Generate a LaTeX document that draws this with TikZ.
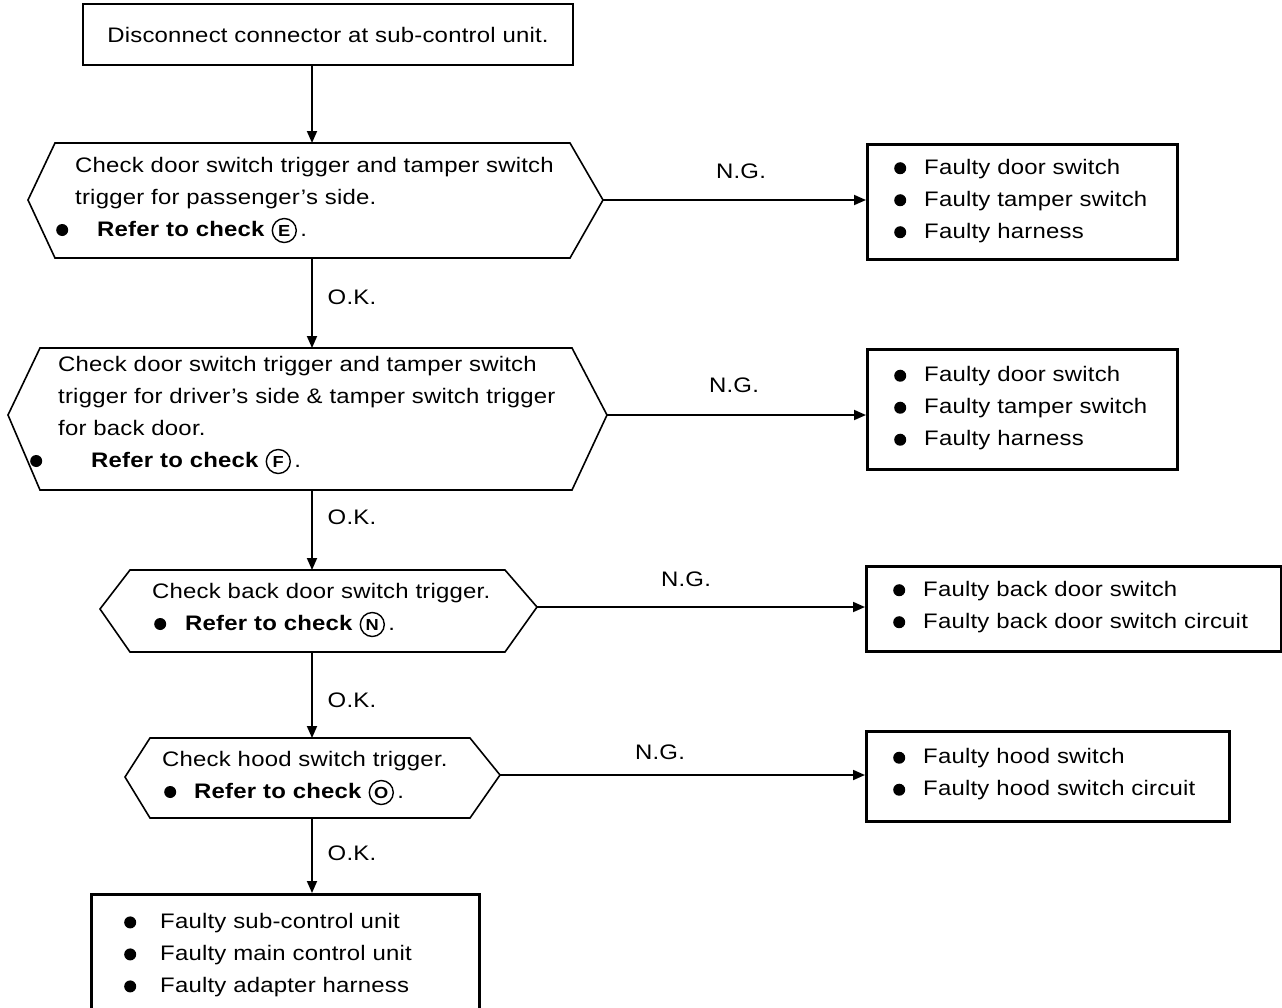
\documentclass[tikz,border=0pt]{standalone}
\usepackage{fontspec}
\setmainfont{Liberation Sans}[FakeStretch=1.14,LetterSpace=1]
\usetikzlibrary{arrows.meta}

% filled bullet and circled reference letter
\newcommand{\dotmark}{\tikz[x=1pt,y=1pt,baseline=0pt]\fill (6,6) circle (6);}
\newcommand{\circled}[1]{\tikz[baseline=(cl.base)]\node[draw,circle,line width=1.4pt,inner sep=0pt,minimum size=24pt,font=\bfseries\fontsize{16}{16}\selectfont](cl){#1};}

\tikzset{
  flow/.style={line width=1.8pt,-{Triangle[length=12pt,width=10pt]}},
  hexagon/.style={line width=1.6pt,line join=miter},
  body/.style={font=\fontsize{21}{32}\selectfont,align=left,inner sep=0pt},
  fault/.style={draw,line width=2.6pt,anchor=north west,inner sep=0pt},
  tag/.style={font=\fontsize{21}{21}\selectfont,inner sep=0pt},
}

\begin{document}
\begin{tikzpicture}[x=1pt,y=-1pt]
\useasboundingbox (0,0) rectangle (1282,1007);

% start box
\node[draw,line width=2pt,minimum width=490pt,minimum height=61pt,anchor=north west,font=\fontsize{21}{32}\selectfont] (start) at (82,3) {Disconnect connector at sub-control unit.};

% decision hexagons
\draw[hexagon] (28,200) coordinate (h1w) -- (55,143) -- (312,143) coordinate (h1n) -- (570,143) -- (603,200) coordinate (h1e) -- (570,258) -- (312,258) coordinate (h1s) -- (55,258) -- cycle;
\draw[hexagon] (8,415) coordinate (h2w) -- (40,348) -- (312,348) coordinate (h2n) -- (572,348) -- (607,415) coordinate (h2e) -- (572,490) -- (312,490) coordinate (h2s) -- (40,490) -- cycle;
\draw[hexagon] (100,609) coordinate (h3w) -- (130,570) -- (312,570) coordinate (h3n) -- (505,570) -- (537,607) coordinate (h3e) -- (505,652) -- (312,652) coordinate (h3s) -- (130,652) -- cycle;
\draw[hexagon] (125,777) coordinate (h4w) -- (150,738) -- (312,738) coordinate (h4n) -- (470,738) -- (500,775) coordinate (h4e) -- (470,818) -- (312,818) coordinate (h4s) -- (150,818) -- cycle;

\node[body,anchor=west] (h1txt) at (75,200) {Check door switch trigger and tamper switch\\trigger for passenger’s side.\\\hspace*{-19pt}\dotmark\hspace{29pt}\textbf{Refer to check} \circled{E}\,.};
\node[body,anchor=west] (h2txt) at (58,415) {Check door switch trigger and tamper switch\\trigger for driver’s side \& tamper switch trigger\\for back door.\\\hspace*{-28pt}\dotmark\hspace{49pt}\textbf{Refer to check} \circled{F}\,.};
\node[body,anchor=west] (h3txt) at (152,610) {Check back door switch trigger.\\\hspace*{2pt}\dotmark\hspace{19pt}\textbf{Refer to check} \circled{N}\,.};
\node[body,anchor=west] (h4txt) at (162,778) {Check hood switch trigger.\\\hspace*{2pt}\dotmark\hspace{18pt}\textbf{Refer to check} \circled{O}\,.};

% fault boxes and their lists
\node[fault,minimum width=310pt,minimum height=115pt] (r1) at (866,143) {};
\node[fault,minimum width=310pt,minimum height=120pt] (r2) at (866,348) {};
\node[fault,minimum width=415pt,minimum height=85pt] (r3) at (865,565) {};
\node[fault,minimum width=363pt,minimum height=90pt] (r4) at (865,730) {};
\node[fault,minimum width=388pt,minimum height=150pt] (bot) at (90,893) {};

\node[body,anchor=west] (r1txt) at ([xshift=28pt,yshift=1pt]r1.west) {\dotmark\hspace{18pt}Faulty door switch\\\dotmark\hspace{18pt}Faulty tamper switch\\\dotmark\hspace{18pt}Faulty harness};
\node[body,anchor=west] (r2txt) at ([xshift=28pt,yshift=1pt]r2.west) {\dotmark\hspace{18pt}Faulty door switch\\\dotmark\hspace{18pt}Faulty tamper switch\\\dotmark\hspace{18pt}Faulty harness};
\node[body,anchor=west] (r3txt) at ([xshift=28pt,yshift=2pt]r3.west) {\dotmark\hspace{18pt}Faulty back door switch\\\dotmark\hspace{18pt}Faulty back door switch circuit};
\node[body,anchor=west] (r4txt) at ([xshift=28pt,yshift=2pt]r4.west) {\dotmark\hspace{18pt}Faulty hood switch\\\dotmark\hspace{18pt}Faulty hood switch circuit};
\node[body,anchor=north west] (bottxt) at ([xshift=34pt,yshift=-20pt]bot.north west) {\dotmark\hspace{24pt}Faulty sub-control unit\\\dotmark\hspace{24pt}Faulty main control unit\\\dotmark\hspace{24pt}Faulty adapter harness};

% vertical flow
\draw[flow] (h1n |- start.south) -- (h1n);
\draw[flow] (h1s) -- (h2n);
\draw[flow] (h2s) -- (h3n);
\draw[flow] (h3s) -- (h4n);
\draw[flow] (h4s) -- (h4s |- bot.north);

% branches
\draw[flow] (h1e) -- (h1e -| r1.west);
\draw[flow] (h2e) -- (h2e -| r2.west);
\draw[flow] (h3e) -- (h3e -| r3.west);
\draw[flow] (h4e) -- (h4e -| r4.west);

% labels
\node[tag] (ng1) at (741,171) {N.G.};
\node[tag] (ng2) at (734,385) {N.G.};
\node[tag] (ng3) at (686,579) {N.G.};
\node[tag] (ng4) at (660,752) {N.G.};
\node[tag] (ok1) at (352,297) {O.K.};
\node[tag] (ok2) at (352,517) {O.K.};
\node[tag] (ok3) at (352,700) {O.K.};
\node[tag] (ok4) at (352,853) {O.K.};
\end{tikzpicture}
\end{document}
